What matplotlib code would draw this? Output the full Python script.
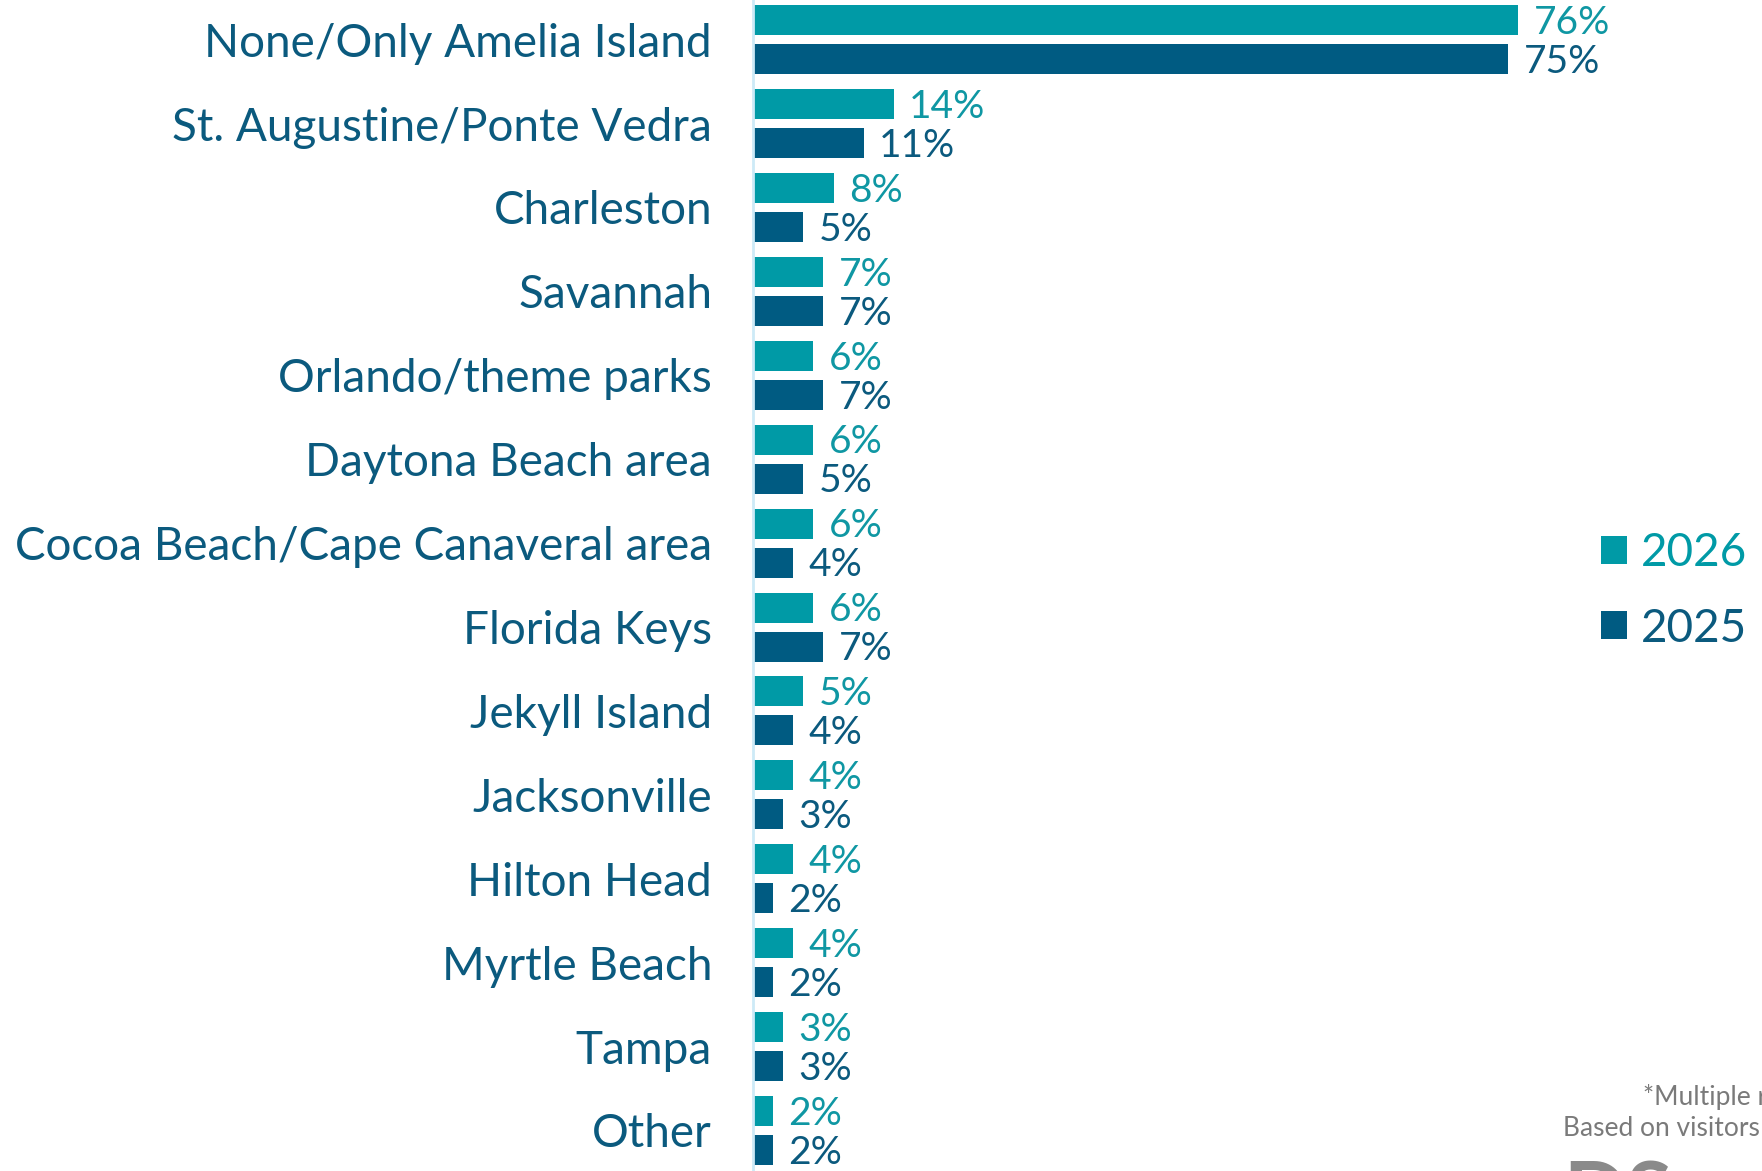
import numpy as np
import matplotlib
matplotlib.use("Agg")
import matplotlib.pyplot as plt

## data
categories = ["None/Only Amelia Island", "St. Augustine/Ponte Vedra", "Charleston",
              "Savannah", "Orlando/theme parks", "Daytona Beach area",
              "Cocoa Beach/Cape Canaveral area", "Florida Keys", "Jekyll Island",
              "Jacksonville", "Hilton Head", "Myrtle Beach", "Tampa", "Other"]
vals_2026 = [76, 14, 8, 7, 6, 6, 6, 6, 5, 4, 4, 4, 3, 2]
vals_2025 = [75, 11, 5, 7, 7, 5, 4, 7, 4, 3, 2, 2, 3, 2]
series_names = ["2026", "2025"]

c26 = "#009aa6"
c25 = "#005b82"
txt_blue = "#0b5a7e"

plt.rcParams["font.family"] = ["Lato", "DejaVu Sans"]

W, H = 1762, 1171
fig = plt.figure(figsize=(W / 100, H / 100), dpi=100)
x0 = 753
ax = fig.add_axes([x0 / W, 0, 1 - x0 / W, 1])

pitch = 83.9
y = np.arange(len(categories))
off = 19.5 / pitch
bh = 30 / pitch

b26 = ax.barh(y - off, vals_2026, height=bh, color=c26, label=series_names[0])
b25 = ax.barh(y + off, vals_2025, height=bh, color=c25, label=series_names[1])

for v, yy in zip(vals_2026, y - off):
    ax.annotate(f"{v}%", xy=(v, yy), xytext=(11, -2), textcoords="offset points",
                va="center", ha="left", fontsize=28, color="#0f97a3")
for v, yy in zip(vals_2025, y + off):
    ax.annotate(f"{v}%", xy=(v, yy), xytext=(11, -2), textcoords="offset points",
                va="center", ha="left", fontsize=28, color=txt_blue)

ax.set_xlim(0, (W - x0) / 10.07)
ax.set_ylim((H - 39.7) / pitch, -39.7 / pitch)
ax.set_yticks(y)
ax.set_yticklabels(categories, fontsize=33, color=txt_blue)
ax.tick_params(axis="y", length=0, pad=29.5)
ax.set_xticks([])
for s in ["top", "right", "bottom"]:
    ax.spines[s].set_visible(False)
ax.spines["left"].set_color("#cdeaf7")
ax.spines["left"].set_linewidth(2)

leg = fig.legend([b26, b25], series_names, loc="center left",
                 bbox_to_anchor=(1601 / W, 1 - 591 / H), frameon=False,
                 fontsize=33, handlelength=0.57, handleheight=0.57,
                 handletextpad=0.3, labelspacing=0.72, borderpad=0, borderaxespad=0)
for t, c in zip(leg.get_texts(), [c26, txt_blue]):
    t.set_color(c)

fig.text(1643 / W, 1 - 1105 / H, "*Multiple responses allowed", fontsize=19,
         color="#7a7a7a", va="baseline", ha="left")
fig.text(1563 / W, 1 - 1136 / H, "Based on visitors surveyed", fontsize=19,
         color="#7a7a7a", va="baseline", ha="left")
fig.text(1563 / W, 1 - 1160 / H, "DS", fontsize=60, fontweight="bold",
         color="#8a8a8a", va="top", ha="left")

fig.savefig("out.png", dpi=100)
